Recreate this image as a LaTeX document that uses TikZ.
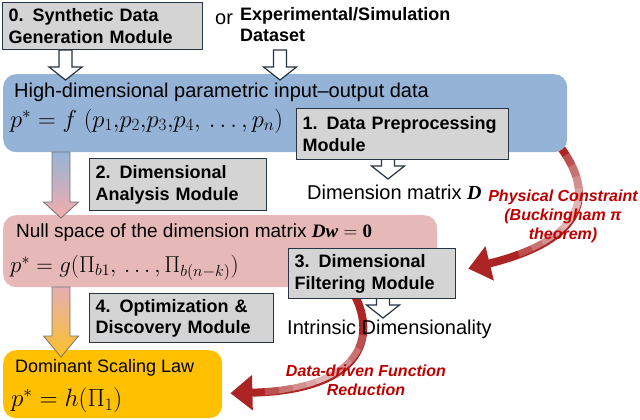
\documentclass[tikz,border=0pt]{standalone}
\usepackage{fix-cm}
\usepackage{amsmath}
\usepackage[no-math]{fontspec}
\setmainfont{Liberation Sans}
\newfontfamily\serifbf{Liberation Serif}
\usetikzlibrary{arrows.meta,backgrounds}
\definecolor{blueP}{RGB}{149,179,215}
\definecolor{pinkP}{RGB}{230,185,184}
\definecolor{orangeP}{RGB}{255,192,0}
\definecolor{boxgray}{RGB}{212,212,212}
\definecolor{boxline}{RGB}{38,52,68}
\definecolor{arcred}{RGB}{172,36,36}
\definecolor{lblred}{RGB}{192,0,0}
\definecolor{arrA}{RGB}{150,180,214}
\definecolor{arrB}{RGB}{244,172,172}
\definecolor{arrC}{RGB}{228,175,178}
\definecolor{arrD}{RGB}{252,192,40}
\newcommand\hollowarr[4]{%
  \draw[hollow] (#1-6.5,#2) -- (#1+6.5,#2) -- (#1+6.5,#3) -- (#1+16.5,#3) -- (#1,#4) -- (#1-16.5,#3) -- (#1-6.5,#3) -- cycle;}
\newcommand\gradarr[6]{%
  \draw[gradline, top color=#5, bottom color=#6] (#1-9,#2) -- (#1+9,#2) -- (#1+9,#3) -- (#1+17.5,#3) -- (#1,#4) -- (#1-17.5,#3) -- (#1-9,#3) -- cycle;}
\begin{document}
\begin{tikzpicture}[x=1pt,y=-1pt,
  modbox/.style={draw=boxline, fill=boxgray, line width=1.3pt, anchor=north west,
    inner xsep=6pt, inner ysep=0pt, font=\bfseries\fontsize{18}{21.5}\selectfont, align=left},
  panel/.style={anchor=north west, rounded corners=13pt, inner sep=0pt, draw=none},
  txt/.style={anchor=west, inner sep=0pt, font=\fontsize{20}{24}\selectfont},
  hollow/.style={draw=boxline, fill=white, line width=1.2pt, line join=miter},
  gradline/.style={draw=black!55, line width=0.8pt},
  arcstyle/.style={draw=arcred, line width=8pt, -{Triangle[length=22pt,width=34pt]}},
  glowbase/.style={draw=white, line width=8.6pt, draw opacity=0.2},
  redlbl/.style={text=lblred, font=\bfseries\itshape\fontsize{16}{19}\selectfont, align=center, inner sep=0pt}]
\useasboundingbox (0,0) rectangle (640,420);
% panels
\node[panel, fill=blueP, minimum width=564pt, minimum height=78pt] (blue) at (3,74) {};
\node[panel, fill=pinkP, minimum width=434pt, minimum height=72pt] (pink) at (3,215) {};
\node[panel, fill=orangeP, minimum width=219pt, minimum height=68pt] (orange) at (3,350) {};
% gradient arrows
\gradarr{61}{152}{202}{218}{arrA}{arrB}
\gradarr{61}{287}{336}{357}{arrC}{arrD}
% hollow arrows
\hollowarr{65.5}{50}{67}{80}
\hollowarr{280}{50}{67}{80}
\hollowarr{388}{159}{166}{179}
\hollowarr{383}{298}{305}{318}
% module boxes
\node[modbox, text width=188pt, minimum height=47pt] (b0) at (2,2) {0. Synthetic Data\\Generation Module};
\node[modbox, text width=200pt, minimum height=51pt] (b1) at (296,108) {1. Data Preprocessing\\Module};
\node[modbox, text width=165pt, minimum height=52pt] (b2) at (89,158) {2. Dimensional\\Analysis Module};
\node[modbox, text width=155pt, minimum height=50pt] (b3) at (288,248) {3. Dimensional\\Filtering Module};
\node[modbox, text width=172pt, minimum height=49pt] (b4) at (89,293) {4. Optimization \&\\Discovery Module};
% top texts
\node[txt] (or) at (215,19) {or};
\node[anchor=west, inner sep=0pt, align=left, font=\bfseries\fontsize{18}{21}\selectfont] (exp) at (240,25) {Experimental/Simulation\\Dataset};
% panel texts
\node[txt] (hd) at (14,92) {High-dimensional parametric input–output data};
\node[anchor=west, inner sep=0pt, font=\fontsize{24.5}{29}\selectfont] (f1) at (10,121) {$p^{*} = f\ (p_1{,}p_2{,}p_3{,}p_4{,}\,\ldots{,}\,p_n)$};
\node[txt] (dm) at (307,192) {Dimension matrix {\serifbf\bfseries\itshape D}};
\node[anchor=west, inner sep=0pt, font=\fontsize{19}{23}\selectfont] (ns) at (16,233) {Null space of the dimension matrix {\serifbf\bfseries\itshape Dw} $=$ {\serifbf\bfseries 0}};
\node[anchor=west, inner sep=0pt, font=\fontsize{23}{27}\selectfont] (f2) at (10,268) {$p^{*} = g(\Pi_{b1}{,}\,\ldots{,}\,\Pi_{b(n-k)})$};
\node[txt] (id) at (287,329) {Intrinsic Dimensionality};
\node[anchor=west, inner sep=0pt, font=\fontsize{18}{22}\selectfont] (ds) at (15,368) {Dominant Scaling Law};
\node[anchor=west, inner sep=0pt, font=\fontsize{25}{30}\selectfont] (f3) at (11,400) {$p^{*} = h(\Pi_1)$};
% red curved arrows (behind)
\begin{scope}[on background layer]
\draw[arcstyle] ([xshift=-6pt,yshift=4pt]blue.south east) .. controls (595,195) and (585,240) .. ([xshift=12pt,yshift=5pt]b3.east);
\foreach \o/\l in {8/130,20/104,32/80,44/56,56/32}
  \draw[glowbase, dash pattern=on 0pt off \o pt on \l pt off 2000pt] ([xshift=-6pt,yshift=4pt]blue.south east) .. controls (595,195) and (585,240) .. ([xshift=12pt,yshift=5pt]b3.east);
\draw[arcstyle] ([xshift=-17pt,yshift=3pt]b3.south) .. controls (375,335) and (365,390) .. ([xshift=8pt,yshift=-9pt]orange.east);
\foreach \o/\l in {40/120,54/92,68/64,82/36,92/16}
  \draw[glowbase, dash pattern=on 0pt off \o pt on \l pt off 2000pt] ([xshift=-17pt,yshift=3pt]b3.south) .. controls (375,335) and (365,390) .. ([xshift=8pt,yshift=-9pt]orange.east);
\end{scope}
% red labels
\node[redlbl] (lbl1) at (563,216) {Physical Constraint\\(Buckingham π\\theorem)};
\node[redlbl] (lbl2) at (366,380) {Data-driven Function\\Reduction};
\end{tikzpicture}
\end{document}
